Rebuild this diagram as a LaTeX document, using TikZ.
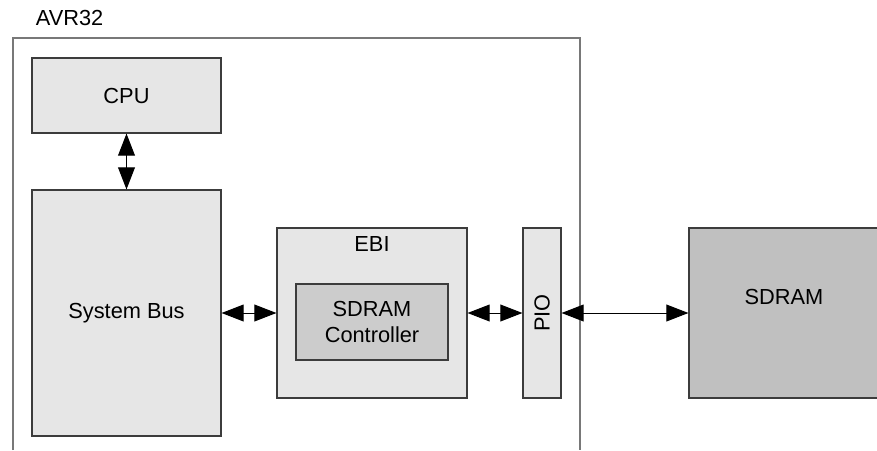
\documentclass[tikz,border=0pt]{standalone}
\usepackage{fontspec}
\setmainfont{Liberation Sans}
\usepackage{tikz}
\usetikzlibrary{calc, arrows.meta}
\tikzset{>={Triangle[width=4.2mm,length=5.5mm]}}
\definecolor{blockfill}{HTML}{E6E6E6}
\definecolor{ctrlfill}{HTML}{CCCCCC}
\definecolor{memfill}{HTML}{C0C0C0}
\definecolor{edgegray}{HTML}{3C3C3C}
\definecolor{framegray}{HTML}{787878}
\tikzset{
  block/.style={draw=edgegray, line width=0.8pt, fill=blockfill, inner sep=0pt},
  bus/.style={<->, line width=0.7pt}
}

\begin{document}
\begin{tikzpicture}[font=\fontsize{15.5}{18.5}\selectfont]
  \useasboundingbox (0,0) rectangle (21.925,-11.25);

  % AVR32 frame, open at the bottom
  \draw[framegray, line width=1.2pt] (0.325,-11.25) -- (0.325,-0.95) -- (14.5,-0.95) -- (14.5,-11.25);
  \node (AVR) at (1.74,-0.46) {AVR32};

  \node[block, minimum width=4.725cm, minimum height=1.875cm] (CPU) at (3.1625,-2.3875) {CPU};
  \node[block, minimum width=4.725cm, minimum height=6.15cm] (SYS) at (3.1625,-7.825) {System Bus};
  \node[block, minimum width=4.75cm, minimum height=4.25cm] (EBI) at (9.3,-7.825) {};
  \node at ($(EBI.north)+(0,-0.425)$) (EBILBL) {EBI};
  \node[block, fill=ctrlfill, minimum width=3.8cm, minimum height=1.9cm, align=center] (CTRL) at (9.3,-8.05) {SDRAM\\Controller};
  % rotated: its north side faces left, its south side right
  \node[block, minimum width=4.25cm, minimum height=0.95cm, rotate=90] (PIO) at (13.55,-7.825) {PIO};
  \node[block, fill=memfill, minimum width=4.75cm, minimum height=4.25cm] (MEM) at (19.6,-7.825) {};
  \node at ($(MEM.center)+(0,0.4)$) (MEMLBL) {SDRAM};

  \draw[bus] (CPU.south) -- (SYS.north);
  \draw[bus] (SYS.east |- EBI.west) -- (EBI.west);
  \draw[bus] (EBI.east) -- (PIO.north);
  \draw[bus] (PIO.south) -- (MEM.west);
\end{tikzpicture}
\end{document}
